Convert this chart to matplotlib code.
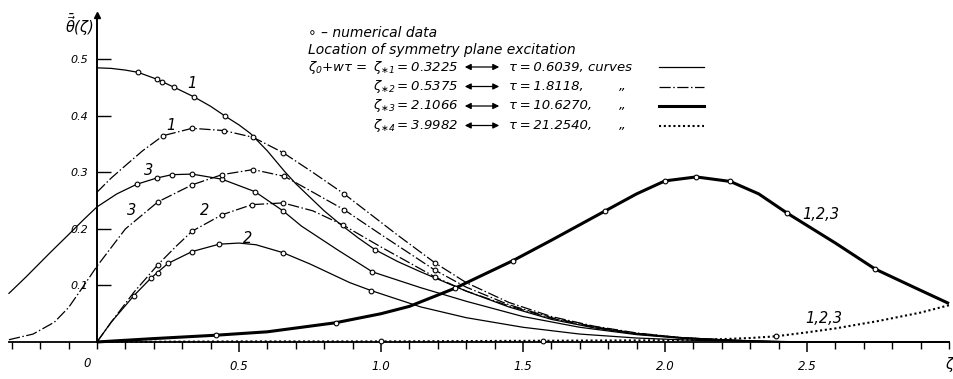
import matplotlib
matplotlib.use("Agg")
import matplotlib.pyplot as plt
import matplotlib.ticker as ticker
from matplotlib.lines import Line2D
from matplotlib.patches import FancyArrowPatch

plt.rcParams["font.family"] = ["DejaVu Sans"]
plt.rcParams["font.style"] = "italic"
plt.rcParams["mathtext.fontset"] = "dejavusans"
plt.rcParams["mathtext.default"] = "it"

# excitation at zeta*1 (thin solid), curves 1, 2, 3
s1_z = [0, 0.05, 0.1, 0.145, 0.21, 0.27, 0.34, 0.4, 0.45, 0.5, 0.54, 0.6, 0.66, 0.7, 0.75,
        0.8, 0.855, 0.92, 0.98, 1.06, 1.14, 1.3, 1.45, 1.6, 1.75, 1.9, 2.05, 2.2, 2.35, 2.5, 3.0]
s1_v = [0.485, 0.484, 0.481, 0.477, 0.465, 0.451, 0.434, 0.417, 0.400, 0.384, 0.369, 0.338,
        0.302, 0.280, 0.256, 0.232, 0.209, 0.184, 0.163, 0.142, 0.124, 0.090, 0.062, 0.040,
        0.025, 0.014, 0.007, 0.003, 0.001, 0.0, 0.0]
s1_mz = [0.145, 0.21, 0.23, 0.27, 0.34, 0.45, 0.98]
s1_mv = [0.477, 0.465, 0.460, 0.451, 0.434, 0.400, 0.163]

s2_z = [0, 0.05, 0.13, 0.19, 0.25, 0.335, 0.43, 0.5, 0.56, 0.655, 0.75, 0.89, 0.965, 1.14,
        1.3, 1.5, 1.7, 1.9, 2.1, 2.3, 2.5, 3.0]
s2_v = [0, 0.035, 0.082, 0.113, 0.139, 0.160, 0.173, 0.175, 0.172, 0.158, 0.138, 0.105, 0.091,
        0.062, 0.043, 0.026, 0.014, 0.007, 0.003, 0.001, 0.0, 0.0]
s2_mz = [0.13, 0.19, 0.215, 0.25, 0.335, 0.43, 0.655, 0.965]
s2_mv = [0.082, 0.113, 0.122, 0.139, 0.160, 0.173, 0.158, 0.091]

s3_z = [-0.31, -0.25, -0.165, -0.1, -0.05, 0, 0.07, 0.14, 0.21, 0.264, 0.335, 0.44, 0.556,
        0.655, 0.72, 0.85, 0.97, 1.14, 1.3, 1.5, 1.7, 1.9, 2.1, 2.3, 2.5, 3.0]
s3_v = [0.086, 0.115, 0.158, 0.190, 0.215, 0.239, 0.262, 0.279, 0.290, 0.296, 0.297, 0.288,
        0.266, 0.232, 0.205, 0.162, 0.124, 0.096, 0.072, 0.045, 0.026, 0.013, 0.005, 0.002,
        0.0, 0.0]
s3_mz = [0.14, 0.21, 0.264, 0.335, 0.44, 0.556, 0.655, 0.97]
s3_mv = [0.279, 0.290, 0.296, 0.297, 0.288, 0.266, 0.232, 0.124]

# excitation at zeta*2 (dash-dot), curves 1, 2, 3
d1_z = [0, 0.05, 0.1, 0.16, 0.233, 0.335, 0.447, 0.55, 0.655, 0.76, 0.87, 1.056, 1.19, 1.3,
        1.45, 1.6, 1.75, 1.9, 2.05, 2.2, 2.35, 2.5, 3.0]
d1_v = [0.265, 0.290, 0.312, 0.338, 0.365, 0.378, 0.374, 0.362, 0.335, 0.300, 0.262, 0.190,
        0.140, 0.105, 0.070, 0.045, 0.028, 0.016, 0.008, 0.004, 0.001, 0.0, 0.0]
d1_mz = [0.233, 0.335, 0.447, 0.55, 0.655, 0.87, 1.19]
d1_mv = [0.365, 0.378, 0.374, 0.362, 0.335, 0.262, 0.140]

d2_z = [0, 0.05, 0.13, 0.215, 0.28, 0.335, 0.44, 0.546, 0.655, 0.76, 0.866, 1.0, 1.19, 1.3,
        1.45, 1.6, 1.75, 1.9, 2.05, 2.2, 2.35, 2.5, 3.0]
d2_v = [0, 0.035, 0.088, 0.137, 0.170, 0.196, 0.225, 0.243, 0.246, 0.232, 0.207, 0.168,
        0.115, 0.090, 0.064, 0.042, 0.026, 0.015, 0.008, 0.004, 0.001, 0.0, 0.0]
d2_mz = [0.215, 0.335, 0.44, 0.546, 0.655, 0.866, 1.19]
d2_mv = [0.137, 0.196, 0.225, 0.243, 0.246, 0.207, 0.115]

d3_z = [-0.31, -0.225, -0.15, -0.1, -0.05, 0, 0.1, 0.215, 0.335, 0.44, 0.55, 0.66, 0.76,
        0.87, 1.0, 1.19, 1.3, 1.45, 1.6, 1.75, 1.9, 2.05, 2.2, 2.35, 2.5, 3.0]
d3_v = [0.004, 0.014, 0.035, 0.061, 0.097, 0.134, 0.200, 0.248, 0.278, 0.296, 0.305, 0.293,
        0.265, 0.234, 0.190, 0.127, 0.097, 0.066, 0.043, 0.027, 0.015, 0.008, 0.004, 0.001,
        0.0, 0.0]
d3_mz = [0.215, 0.335, 0.44, 0.55, 0.66, 0.87, 1.19]
d3_mv = [0.248, 0.278, 0.296, 0.305, 0.293, 0.234, 0.127]

# excitation at zeta*3 (thick), curves 1,2,3 coincide
t_z = [0, 0.2, 0.42, 0.6, 0.84, 1.0, 1.1, 1.26, 1.465, 1.6, 1.79, 1.9, 2.0, 2.11, 2.23, 2.33,
       2.43, 2.6, 2.74, 2.88, 3.0]
t_v = [0, 0.006, 0.012, 0.018, 0.034, 0.050, 0.063, 0.095, 0.144, 0.180, 0.232, 0.262, 0.285,
       0.292, 0.284, 0.262, 0.228, 0.175, 0.129, 0.096, 0.068]
t_mz = [0.42, 0.84, 1.26, 1.465, 1.79, 2.0, 2.11, 2.23, 2.43, 2.74]
t_mv = [0.012, 0.034, 0.095, 0.144, 0.232, 0.285, 0.292, 0.284, 0.228, 0.129]

# excitation at zeta*4 (dotted)
p_z = [0, 0.5, 1.0, 1.5, 2.0, 2.2, 2.3, 2.39, 2.5, 2.6, 2.75, 2.9, 3.0]
p_v = [0, 0.001, 0.001, 0.002, 0.003, 0.005, 0.007, 0.010, 0.017, 0.024, 0.037, 0.052, 0.065]
p_mz = [1.0, 1.57, 2.39]
p_mv = [0.001, 0.002, 0.010]

x_major = [0, 0.5, 1.0, 1.5, 2.0, 2.5]
x_labels = ["0", "0.5", "1.0", "1.5", "2.0", "2.5"]
y_major = [0.1, 0.2, 0.3, 0.4, 0.5]
y_labels = ["0.1", "0.2", "0.3", "0.4", "0.5"]

# curve numbers: text, zeta, value (label centres)
curve_tags = [("1", 0.335, 0.458), ("1", 0.262, 0.383), ("3", 0.18, 0.303), ("3", 0.123, 0.232),
              ("2", 0.38, 0.232), ("2", 0.53, 0.183), ("1,2,3", 2.55, 0.226),
              ("1,2,3", 2.56, 0.042)]

# explanation rows: zeta*, tau
exc_zeta = ["0.3225", "0.5375", "2.1066", "3.9982"]
exc_tau = ["0.6039", "1.8118", "10.6270", "21.2540"]

W, H = 954, 379
fig = plt.figure(figsize=(W / 100, H / 100), dpi=100)
ax = fig.add_axes([0, 0, 1, 1])
ax.set_xlim(-0.3415, 3.0176)
ax.set_ylim(-0.0655, 0.605)

dashdot = (0, (9, 2, 1.2, 2))
dotted = (0, (1, 1.3))
thin = dict(color="black", lw=0.9)
mk = dict(ls="none", marker="o", ms=3.4, mfc="white", mec="black", mew=0.8, zorder=5)

ax.plot(s1_z, s1_v, **thin)
ax.plot(s2_z, s2_v, **thin)
ax.plot(s3_z, s3_v, **thin)
ax.plot(d1_z, d1_v, color="black", lw=0.9, ls=dashdot)
ax.plot(d2_z, d2_v, color="black", lw=0.9, ls=dashdot)
ax.plot(d3_z, d3_v, color="black", lw=0.9, ls=dashdot)
ax.plot(t_z, t_v, color="black", lw=2.2, solid_capstyle="butt")
ax.plot(p_z, p_v, color="black", lw=1.5, ls=dotted)

for mz, mv in [(s1_mz, s1_mv), (s2_mz, s2_mv), (s3_mz, s3_mv), (d1_mz, d1_mv),
               (d2_mz, d2_mv), (d3_mz, d3_mv), (t_mz, t_mv), (p_mz, p_mv)]:
    ax.plot(mz, mv, **mk)

# axes drawn through the origin
for side in ["top", "right"]:
    ax.spines[side].set_visible(False)
ax.spines["left"].set_position(("data", 0))
ax.spines["bottom"].set_position(("data", 0))
ax.spines["left"].set_bounds(0, 0.575)
ax.spines["bottom"].set_bounds(-0.31, 3.0)
ax.spines["left"].set_linewidth(1.4)
ax.spines["bottom"].set_linewidth(1.3)
ax.plot(0, 0.578, marker="^", color="black", ms=5, clip_on=False)

ax.set_xticks(x_major[1:])
ax.set_xticklabels(x_labels[1:])
ax.xaxis.set_minor_locator(ticker.MultipleLocator(0.1))
ax.tick_params(axis="x", which="major", direction="out", length=7, width=1.1, pad=6,
               labelsize=8.5)
ax.tick_params(axis="x", which="minor", direction="out", length=5, width=1.0)
ax.text(-0.035, -0.038, x_labels[0], fontsize=8.5, ha="center", va="center")
ax.set_yticks(y_major)
ax.set_yticklabels(y_labels)
ax.tick_params(axis="y", direction="in", length=10, width=1.0, pad=6, labelsize=8)
ax.text(3.0, -0.04, "ζ", fontsize=10.5, ha="center", va="center")
ax.text(-0.01, 0.562, r"$\bar{\vec{\theta}}(\zeta)$", fontsize=10.5, ha="right", va="center")

for s, z, v in curve_tags:
    ax.text(z, v, s, fontsize=10.5, ha="center", va="center")


# explanation block at the top
def ftext(x, y, s, **kw):
    kw.setdefault("fontsize", 9.5)
    fig.text(x / W, 1 - y / H, s, va="center", **kw)


ftext(308, 33, "∘ – numerical data", fontsize=10)
ftext(308, 50, "Location of symmetry plane excitation", fontsize=10)
styles = [dict(lw=0.9), dict(lw=0.9, ls=dashdot), dict(lw=2.2), dict(lw=1.5, ls=dotted)]
ftext(308, 67, r"$\zeta_0$+wτ =")
for i in range(4):
    y = 67 + 19.5 * i
    fy = 1 - y / H
    ftext(373, y, r"$\zeta_{\ast %d}$" % (i + 1) + "\u2009=\u2009" + exc_zeta[i])
    fig.add_artist(FancyArrowPatch((462 / W, fy), (502 / W, fy), transform=fig.transFigure,
                                   arrowstyle="<|-|>", mutation_scale=9, lw=0.9,
                                   color="black"))
    tau = "τ\u2009=\u2009" + exc_tau[i] + ","
    if i == 0:
        tau += " curves"
    ftext(509, y, tau)
    if i > 0:
        ftext(619, y, "„")
    fig.add_artist(Line2D([659 / W, 704 / W], [fy, fy], color="black", **styles[i]))

fig.savefig("out.png", dpi=100)
